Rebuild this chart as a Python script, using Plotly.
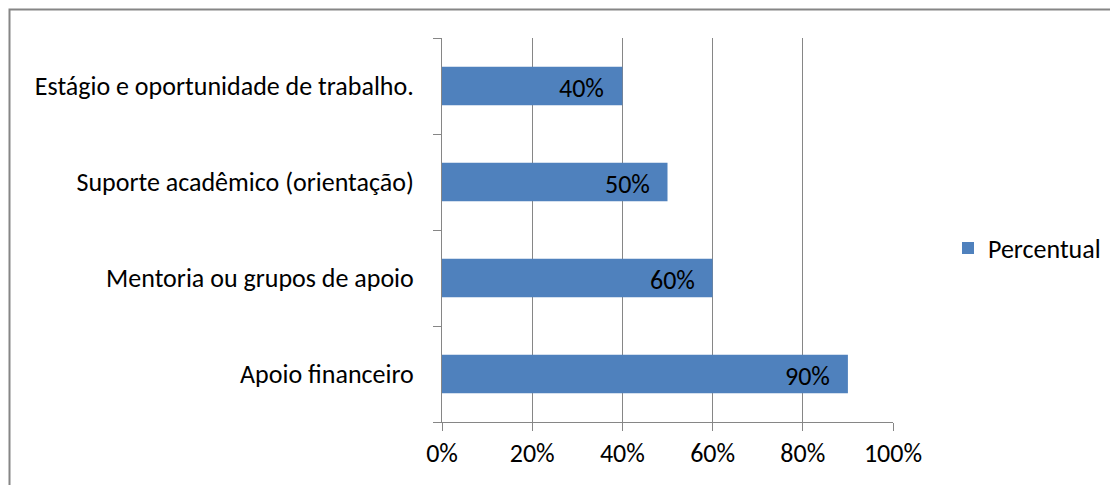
import plotly.graph_objects as go

categories = ["Apoio financeiro", "Mentoria ou grupos de apoio",
              "Suporte acadêmico (orientação)", "Estágio e oportunidade de trabalho."]
values = [90, 60, 50, 40]
series_name = "Percentual"
x_ticks = [0, 20, 40, 60, 80, 100]

FONT = "Carlito, Lato, sans-serif"
GRAY = "#868686"
BLUE = "#4F81BD"
FS = 26

W, H = 1110, 477
L, R, T, B = 434, 225, 30, 63
PW = W - L - R
PH = H - T - B

fig = go.Figure()
fig.add_trace(go.Bar(
    y=categories, x=values, orientation="h", name=series_name,
    marker=dict(color=BLUE, line=dict(width=0)),
))

for c, v in zip(categories, values):
    fig.add_annotation(x=v, y=c, text=f"{v}%", showarrow=False,
                       xanchor="right", yanchor="middle", xshift=-16, yshift=-2,
                       font=dict(family=FONT, size=FS, color="black"))

fig.update_layout(
    width=W, height=H,
    margin=dict(l=L, r=R, t=T, b=B, autoexpand=False),
    paper_bgcolor="white", plot_bgcolor="white",
    bargap=0.6,
    font=dict(family=FONT, size=FS, color="black"),
    showlegend=True,
    legend=dict(x=(940 - L) / PW, y=0.453, xanchor="left", yanchor="middle",
                font=dict(family=FONT, size=FS, color="black"),
                bgcolor="rgba(0,0,0,0)"),
    xaxis=dict(range=[0, 100], tickvals=x_ticks, ticktext=[f"{t}%" for t in x_ticks],
               showgrid=True, gridcolor=GRAY, gridwidth=1,
               showline=True, linecolor=GRAY, linewidth=1,
               ticks="outside", ticklen=8, tickcolor=GRAY, zeroline=False,
               fixedrange=True),
    yaxis=dict(showline=True, linecolor=GRAY, linewidth=1,
               ticks="outside", ticklen=8, tickcolor=GRAY, tickson="boundaries",
               showgrid=False, ticklabelstandoff=22, fixedrange=True),
    shapes=[dict(type="rect", xref="paper", yref="paper",
                 x0=(1.5 - L) / PW, x1=(W + 20 - L) / PW,
                 y0=-(B + 20) / PH, y1=(H - B - 1.5) / PH,
                 line=dict(color=GRAY, width=2), fillcolor="rgba(0,0,0,0)", layer="below")],
)

fig.write_html("out.html")
